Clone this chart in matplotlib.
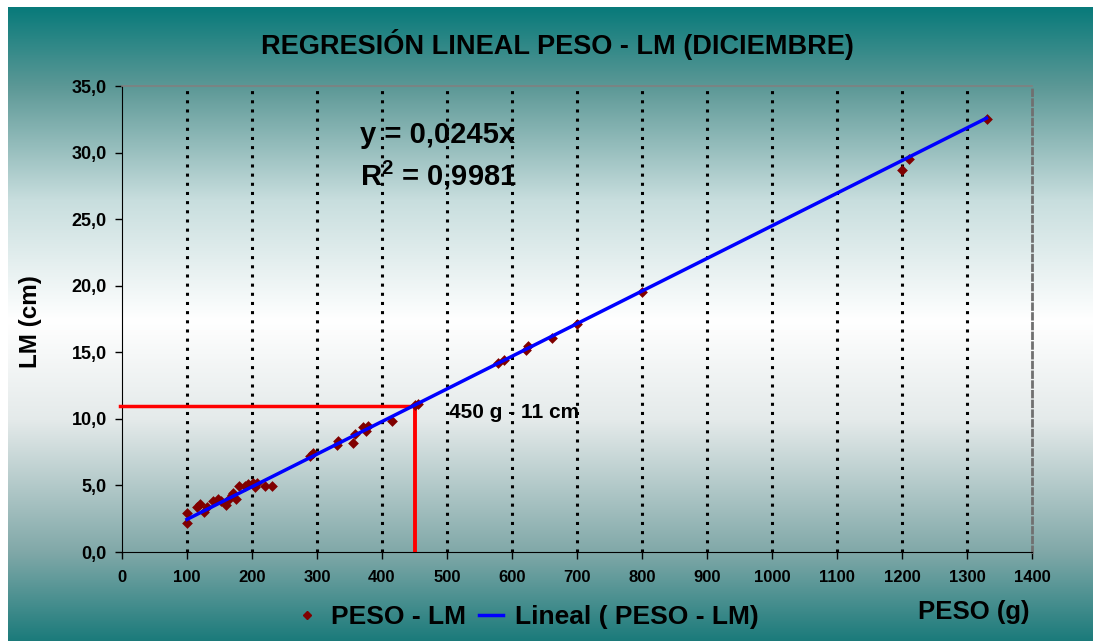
import numpy as np
import matplotlib
matplotlib.use("Agg")
import matplotlib.pyplot as plt
from matplotlib.lines import Line2D
from matplotlib.ticker import FuncFormatter

plt.rcParams['font.family'] = ['Liberation Sans', 'DejaVu Sans']
plt.rcParams['mathtext.fontset'] = 'custom'
plt.rcParams['mathtext.rm'] = 'Liberation Sans:bold'
plt.rcParams['mathtext.it'] = 'Liberation Sans:bold'
plt.rcParams['mathtext.bf'] = 'Liberation Sans:bold'

# ---- data ----
peso = [100, 100, 115, 120, 126, 130, 140, 148, 153, 160, 164, 169, 171, 175,
        180, 189, 194, 201, 205, 207, 220, 230, 289, 294, 330, 333, 355, 358,
        370, 375, 379, 415, 451, 456, 579, 588, 622, 625, 661, 700, 800,
        1200, 1211, 1330]
lm = [2.95, 2.15, 3.4, 3.6, 3.0, 3.4, 3.8, 3.96, 3.85, 3.5, 4.0, 4.3, 4.4, 4.0,
      4.96, 4.96, 5.1, 5.16, 4.86, 5.16, 4.96, 4.96, 7.2, 7.46, 8.04, 8.36, 8.2, 8.87,
      9.4, 9.1, 9.5, 9.87, 11.04, 11.1, 14.2, 14.4, 15.2, 15.5, 16.1, 17.1, 19.5,
      28.7, 29.5, 32.5]
slope = 0.0245
ref_x = 450
ref_y = 11
x_ticks = list(range(0, 1401, 100))
y_ticks = [0, 5, 10, 15, 20, 25, 30, 35]

W, H = 1093, 641
fig = plt.figure(figsize=(W / 100, H / 100), dpi=100)
fig.patch.set_facecolor('white')

# ---- gradient background ----
stops_y = np.array([7, 86, 200, 320, 420, 552, 641], dtype=float)
stops_c = np.array([(8, 122, 122), (92, 152, 150), (200, 222, 222), (255, 255, 255),
                    (228, 234, 234), (128, 168, 168), (26, 122, 122)], dtype=float) / 255
ys = np.arange(7, 641)
grad = np.stack([np.interp(ys, stops_y, stops_c[:, i]) for i in range(3)], axis=-1)
img = np.repeat(grad[:, None, :], 2, axis=1)
bg = fig.add_axes([8 / W, 0, 1 - 8 / W, 1 - 7 / H], zorder=-10)
bg.imshow(img, aspect='auto', interpolation='bilinear')
bg.axis('off')

# ---- main axes ----
x0, x1 = 122, 1032
ytop, ybot = 86, 552
ax = fig.add_axes([x0 / W, 1 - ybot / H, (x1 - x0) / W, (ybot - ytop) / H])
ax.patch.set_alpha(0)
ax.set_xlim(0, 1400)
ax.set_ylim(0, 35)
ax.set_xticks(x_ticks)
ax.set_yticks(y_ticks)
ax.yaxis.set_major_formatter(FuncFormatter(lambda v, p: f"{v:.1f}".replace('.', ',')))
ax.tick_params(axis='both', direction='out', length=5, width=1, colors='black')
ax.tick_params(axis='x', pad=8, labelsize=12)
ax.tick_params(axis='y', pad=6, labelsize=13)
for lab in ax.get_xticklabels() + ax.get_yticklabels():
    lab.set_fontweight('bold')

for xv in x_ticks[1:-1]:
    ax.axvline(xv, color='black', lw=2.2, linestyle=(0, (1.0, 2.0)), zorder=1)

ax.spines['left'].set_color('black')
ax.spines['bottom'].set_color('black')
ax.spines['top'].set_color('#808080')
ax.spines['top'].set_linewidth(1.2)
ax.spines['right'].set_color('#707070')
ax.spines['right'].set_linewidth(2)
ax.spines['right'].set_linestyle((0, (2, 1.5)))

# red reference lines
ax.plot([-3, ref_x], [ref_y, ref_y], color='#ff0000', lw=2.5, clip_on=False, zorder=3)
ax.plot([ref_x, ref_x], [0, ref_y], color='#ff0000', lw=2.8, zorder=3)

# data and trend
ax.scatter(peso, lm, marker='D', s=30, color='#800000', zorder=4, linewidths=0)
xt = np.array([min(peso), max(peso)])
ax.plot(xt, slope * xt, color='#0000ff', lw=2.5, zorder=5)

# ---- texts ----
fig.text(557 / W, 1 - 44 / H, 'REGRESIÓN LINEAL PESO - LM (DICIEMBRE)', ha='center', va='center',
         fontsize=19.5, fontweight='bold')
fig.text(31 / W, 1 - 322 / H, 'LM (cm)', rotation=90, ha='center', va='center',
         fontsize=17.5, fontweight='bold')
fig.text(974 / W, 1 - 612 / H, 'PESO (g)', ha='center', va='center', fontsize=18.5, fontweight='bold')
fig.text(360 / W, 1 - 135 / H, 'y = 0,0245x', ha='left', va='center', fontsize=21, fontweight='bold')
fig.text(360 / W, 1 - 175 / H, 'R$^2$ = 0,9981', ha='left', va='center', fontsize=21, fontweight='bold')
fig.text(449 / W, 1 - 412 / H, '450 g - 11 cm', ha='left', va='center', fontsize=15, fontweight='bold')

handles = [Line2D([], [], marker='D', color='#800000', linestyle='none', markersize=4),
           Line2D([], [], color='#0000ff', lw=2.5)]
fig.legend(handles, ['PESO - LM', 'Lineal ( PESO - LM)'], loc='center',
           bbox_to_anchor=(527 / W, 1 - 617 / H), ncol=2, frameon=False,
           prop={'size': 19, 'weight': 'bold'}, handlelength=0.9, handletextpad=0.45,
           columnspacing=0.5)

fig.savefig('out.png', dpi=100)
